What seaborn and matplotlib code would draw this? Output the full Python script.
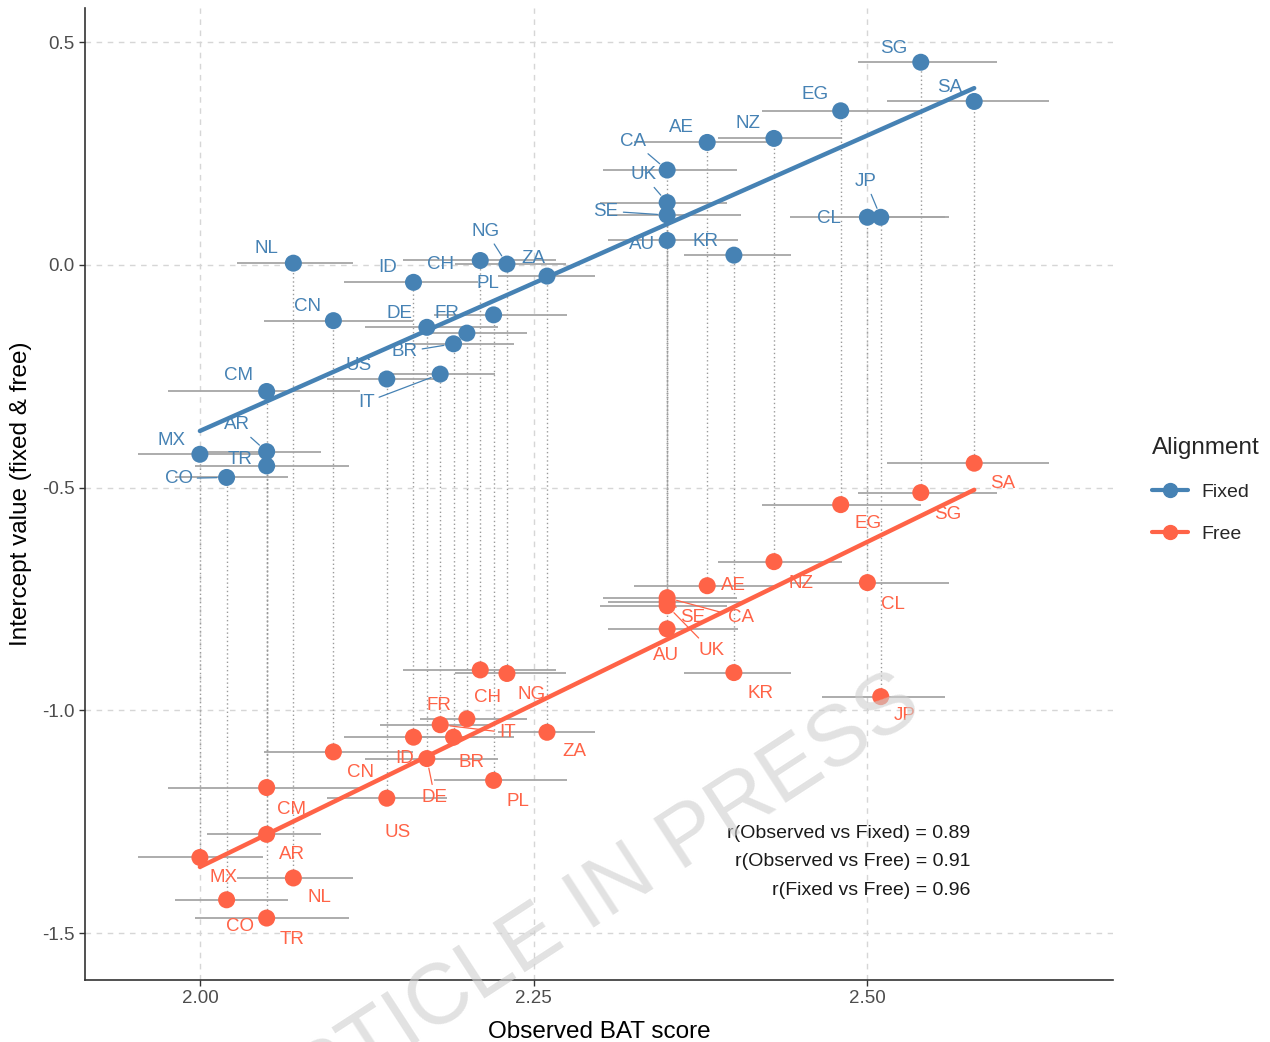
import pandas as pd
import numpy as np
import seaborn as sns
import matplotlib.pyplot as plt
from matplotlib.lines import Line2D


# Daten
countries = ['MX', 'CO', 'CM', 'AR', 'TR', 'NL', 'CN', 'US', 'ID', 'DE', 'IT', 'BR', 'FR', 'CH', 'PL',
             'NG', 'ZA', 'CA', 'UK', 'SE', 'AU', 'AE', 'KR', 'NZ', 'EG', 'CL', 'JP', 'SG', 'SA']
observed = [2.00, 2.02, 2.05, 2.05, 2.05, 2.07, 2.10, 2.14, 2.16, 2.17, 2.18, 2.19, 2.20, 2.21, 2.22,
            2.23, 2.26, 2.35, 2.35, 2.35, 2.35, 2.38, 2.40, 2.43, 2.48, 2.50, 2.51, 2.54, 2.58]
obs_lo = [1.954, 1.981, 1.976, 2.005, 1.996, 2.028, 2.048, 2.095, 2.108, 2.124, 2.135, 2.154, 2.165, 2.152, 2.175,
          2.191, 2.223, 2.302, 2.300, 2.306, 2.306, 2.325, 2.363, 2.388, 2.421, 2.442, 2.466, 2.493, 2.515]
obs_hi = [2.047, 2.066, 2.120, 2.091, 2.112, 2.115, 2.160, 2.185, 2.208, 2.223, 2.221, 2.235, 2.245, 2.267, 2.275,
          2.274, 2.296, 2.402, 2.395, 2.405, 2.403, 2.431, 2.443, 2.481, 2.540, 2.561, 2.558, 2.597, 2.636]
fixed = [-0.425, -0.477, -0.284, -0.419, -0.451, 0.004, -0.125, -0.256, -0.039, -0.140, -0.245, -0.177, -0.153, 0.010, -0.112,
         0.002, -0.025, 0.213, 0.140, 0.112, 0.055, 0.275, 0.022, 0.284, 0.346, 0.107, 0.107, 0.455, 0.367]
free = [-1.330, -1.425, -1.173, -1.278, -1.466, -1.376, -1.093, -1.197, -1.060, -1.108, -1.032, -1.060, -1.019, -0.909, -1.157,
        -0.917, -1.049, -0.747, -0.765, -0.756, -0.817, -0.720, -0.915, -0.666, -0.538, -0.713, -0.969, -0.511, -0.445]
corr_lines = ['r(Observed vs Fixed) = 0.89', 'r(Observed vs Free) = 0.91', 'r(Fixed vs Free) = 0.96']

# Label-Versatz in Pixeln (dx, dy), wie von ggrepel gesetzt
fixed_offsets = {
    'MX': (-28, 14), 'CO': (-48, -1), 'CM': (-28, 16), 'AR': (-30, 27), 'TR': (-27, 6), 'NL': (-27, 15),
    'CN': (-26, 14), 'US': (-28, 14), 'ID': (-26, 15), 'DE': (-27, 14), 'IT': (-74, -28), 'BR': (-49, -8),
    'FR': (-20, 20), 'CH': (-40, -4), 'PL': (-6, 31), 'NG': (-21, 33), 'ZA': (-14, 18), 'CA': (-34, 29),
    'UK': (-24, 28), 'SE': (-61, 4), 'AU': (-25, -4), 'AE': (-26, 15), 'KR': (-28, 14), 'NZ': (-26, 15),
    'EG': (-26, 16), 'CL': (-38, -1), 'JP': (-15, 36), 'SG': (-27, 14), 'SA': (-25, 14)}
free_offsets = {
    'MX': (24, -20), 'CO': (13, -27), 'CM': (25, -22), 'AR': (25, -20), 'TR': (25, -21), 'NL': (26, -20),
    'CN': (27, -21), 'US': (11, -34), 'ID': (-9, -21), 'DE': (8, -39), 'IT': (67, -8), 'BR': (18, -25),
    'FR': (-28, 13), 'CH': (7, -28), 'PL': (24, -21), 'NG': (25, -21), 'ZA': (27, -19), 'CA': (74, -20),
    'UK': (44, -45), 'SE': (26, -16), 'AU': (-1, -27), 'AE': (26, 0), 'KR': (27, -21), 'NZ': (27, -22),
    'EG': (27, -19), 'CL': (26, -22), 'JP': (24, -19), 'SG': (27, -22), 'SA': (28, -20)}
fixed_segments = ['CO', 'AR', 'IT', 'BR', 'NG', 'CA', 'UK', 'SE', 'JP']
free_segments = ['DE', 'IT', 'CA', 'UK', 'SE']

colors = {'Fixed': '#4682B4', 'Free': '#FF6347'}


def build_frame():
    wide = pd.DataFrame({'country': countries, 'observed': observed, 'lo': obs_lo, 'hi': obs_hi,
                         'Fixed': fixed, 'Free': free})
    long = wide.melt(id_vars=['country', 'observed', 'lo', 'hi'], value_vars=['Fixed', 'Free'],
                     var_name='Alignment', value_name='value')
    return wide, long


def draw_labels(ax, sub, offsets, segments, color):
    for _, row in sub.iterrows():
        dx, dy = offsets[row['country']]
        arrow = None
        if row['country'] in segments:
            arrow = dict(arrowstyle='-', color=color, lw=0.9, shrinkA=1, shrinkB=7)
        ax.annotate(row['country'], xy=(row['observed'], row['value']), xytext=(dx, dy),
                    textcoords='offset pixels', ha='center', va='center', fontsize=13.5,
                    color=color, arrowprops=arrow, zorder=5)


def main():
    wide, long = build_frame()

    sns.set_theme(style='ticks')
    plt.rcParams['font.family'] = ['Liberation Sans', 'DejaVu Sans']

    fig = plt.figure(figsize=(12.7, 10.42), dpi=100)
    ax = fig.add_axes([0.067, 0.0595, 0.8094, 0.9325])

    # Gitter
    for gx in [2.00, 2.25, 2.50]:
        ax.axvline(gx, color='#d6d6d6', lw=1, ls=(0, (4, 4)), zorder=0)
    for gy in [0.5, 0.0, -0.5, -1.0, -1.5]:
        ax.axhline(gy, color='#d6d6d6', lw=1, ls=(0, (4, 4)), zorder=0)

    # Verbindungslinien Fixed -> Free
    ax.vlines(wide['observed'], wide['Free'], wide['Fixed'], color='#9a9a9a', lw=1,
              linestyles=(0, (1, 2)), zorder=1)
    # Fehlerbalken des beobachteten Werts
    ax.hlines(long['value'], long['lo'], long['hi'], color='#a6a6a6', lw=1.3, zorder=1.5)

    for name in ['Fixed', 'Free']:
        sns.regplot(data=long[long['Alignment'] == name], x='observed', y='value', scatter=False,
                    ci=None, color=colors[name], line_kws={'lw': 3.2, 'zorder': 2}, ax=ax)

    sns.scatterplot(data=long, x='observed', y='value', hue='Alignment', palette=colors,
                    s=150, edgecolor='none', legend=False, zorder=3, ax=ax)

    draw_labels(ax, long[long['Alignment'] == 'Fixed'], fixed_offsets, fixed_segments, colors['Fixed'])
    draw_labels(ax, long[long['Alignment'] == 'Free'], free_offsets, free_segments, colors['Free'])

    ax.text(2.577, -1.340, '\n'.join(corr_lines), ha='right', va='center', multialignment='right',
            fontsize=14, color='#1a1a1a', linespacing=1.87, zorder=5)

    ax.set_xlim(1.914, 2.684)
    ax.set_ylim(-1.605, 0.576)
    ax.set_xticks([2.00, 2.25, 2.50])
    ax.set_xticklabels(['2.00', '2.25', '2.50'])
    ax.set_yticks([0.5, 0.0, -0.5, -1.0, -1.5])
    ax.set_yticklabels(['0.5', '0.0', '-0.5', '-1.0', '-1.5'])
    ax.tick_params(axis='both', labelsize=13.5, labelcolor='#4d4d4d', color='#333333', length=4, width=1)
    ax.set_xlabel('Observed BAT score', fontsize=17.5, color='black', labelpad=10)
    ax.set_ylabel('Intercept value (fixed & free)', fontsize=17.5, color='black', labelpad=7)
    sns.despine(ax=ax)
    for side in ['left', 'bottom']:
        ax.spines[side].set_color('#333333')
        ax.spines[side].set_linewidth(1.2)

    handles = [Line2D([], [], color=colors[n], lw=3, marker='o', markersize=10) for n in ['Fixed', 'Free']]
    ax.legend(handles, ['Fixed', 'Free'], title='Alignment', loc='center left',
              bbox_to_anchor=(1.021, 0.504), frameon=False, fontsize=14, title_fontsize=17.5,
              handlelength=1.85, handletextpad=0.7, labelspacing=1.25, alignment='left')

    # Wasserzeichen
    fig.text(0.728, 0.316, 'ARTICLE IN PRESS', fontsize=62, color='#cfcfcf', alpha=0.6,
             rotation=33, rotation_mode='anchor', ha='right', va='baseline', zorder=10)

    fig.savefig('out.png', dpi=100)


if __name__ == '__main__':
    main()
